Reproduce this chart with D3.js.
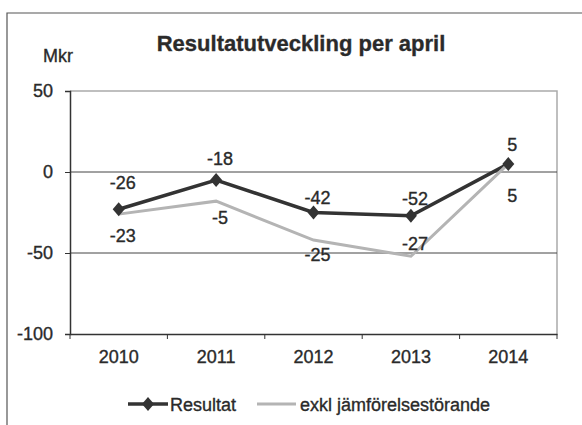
<!DOCTYPE html>
<html>
<head>
<meta charset="utf-8">
<script src="https://cdn.jsdelivr.net/npm/d3@7"></script>
<style>
  body { margin: 0; background: #fff; }
  svg text { font-family: "Liberation Sans", Arial, sans-serif; fill: #2a2a2a; stroke: #2a2a2a; stroke-width: 0.35px; }
</style>
</head>
<body>
<svg width="582" height="425"></svg>
<script>
const years = ['2010', '2011', '2012', '2013', '2014'],
      resultat = [-23, -5, -25, -27, 5],
      exkl = [-26, -18, -42, -52, 5],
      yTicks = [50, 0, -50, -100];

// hand placed labels in the original, offsets from the dark point
const topNudge = [-26, -21, -15, -17, -19],
      bottomNudge = [27, 38, 42, 28, 32];

const svg = d3.select('svg'),
      plotL = 70, plotR = 557, plotT = 91, plotB = 334;

svg.append('rect').attr('width', 582).attr('height', 425).attr('fill', '#fff');

// frame of the scanned box
svg.append('path')
    .attr('d', 'M7,425V13H582')
    .attr('fill', 'none')
    .attr('stroke', '#555')
    .attr('stroke-width', 1.2);

const x = d3.scaleBand().domain(years).range([plotL, plotR]);
const y = d3.scaleLinear().domain([-100, 50]).range([plotB, plotT]);
const cx = d => x(d) + x.bandwidth() / 2;

// plot border top/right
svg.append('path')
    .attr('d', `M${plotL},${y(50)}H${plotR}V${plotB}`)
    .attr('fill', 'none')
    .attr('stroke', '#aaa')
    .attr('stroke-width', 1.5);

svg.selectAll('.grid')
    .data([0, -50])
    .enter().append('line')
    .attr('x1', plotL).attr('x2', plotR)
    .attr('y1', d => y(d)).attr('y2', d => y(d))
    .attr('stroke', '#444')
    .attr('stroke-width', 1);

const yAxis = d3.axisLeft(y).tickValues(yTicks).tickSize(5).tickPadding(12)
    .tickFormat(d => String(d));
const gY = svg.append('g').attr('transform', `translate(${plotL},0)`).call(yAxis);
gY.select('.domain').attr('stroke', '#333').attr('stroke-width', 1.5);
gY.selectAll('.tick line').attr('stroke', '#333');
gY.selectAll('.tick text').attr('font-size', 18).attr('fill', '#2a2a2a');

const xAxis = d3.axisBottom(x).tickSize(0).tickPadding(16);
const gX = svg.append('g').attr('transform', `translate(0,${plotB})`).call(xAxis);
gX.select('.domain').attr('stroke', '#333').attr('stroke-width', 1.5);
gX.selectAll('.tick text').attr('font-size', 18).attr('fill', '#2a2a2a');

// category boundary ticks
const bounds = years.map(d => x(d)).concat([plotR]);
svg.selectAll('.xtick')
    .data(bounds)
    .enter().append('line')
    .attr('x1', d => d).attr('x2', d => d)
    .attr('y1', plotB).attr('y2', plotB + 5)
    .attr('stroke', '#333');

const line = d3.line().x((d, i) => cx(years[i])).y(d => y(d));

svg.append('path')
    .datum(resultat)
    .attr('d', line)
    .attr('fill', 'none')
    .attr('stroke', '#333')
    .attr('stroke-width', 3.5);

svg.append('path')
    .datum(exkl)
    .attr('d', line)
    .attr('fill', 'none')
    .attr('stroke', '#b4b4b4')
    .attr('stroke-width', 3);

const diamond = 'M0,-7L6,0L0,7L-6,0Z';

svg.selectAll('.marker')
    .data(resultat)
    .enter().append('path')
    .attr('d', diamond)
    .attr('transform', (d, i) => `translate(${cx(years[i])},${y(d)})`)
    .attr('fill', '#333');

svg.selectAll('.lblTop')
    .data(exkl)
    .enter().append('text')
    .attr('x', (d, i) => cx(years[i]) + 4)
    .attr('y', (d, i) => y(resultat[i]) + topNudge[i] + 6)
    .attr('text-anchor', 'middle')
    .attr('font-size', 18)
    .text(d => d);

svg.selectAll('.lblBottom')
    .data(resultat)
    .enter().append('text')
    .attr('x', (d, i) => cx(years[i]) + 4)
    .attr('y', (d, i) => y(d) + bottomNudge[i] + 6)
    .attr('text-anchor', 'middle')
    .attr('font-size', 18)
    .text(d => d);

svg.append('text')
    .attr('x', 301).attr('y', 51)
    .attr('text-anchor', 'middle')
    .attr('font-size', 22)
    .attr('font-weight', 'bold')
    .attr('fill', '#333')
    .style('stroke', '#333')
    .text('Resultatutveckling per april');

svg.append('text')
    .attr('x', 43).attr('y', 62)
    .attr('font-size', 18)
    .text('Mkr');

// legend
const legend = svg.append('g').attr('transform', 'translate(0,404)');
legend.append('line').attr('x1', 128).attr('x2', 168)
    .attr('stroke', '#333').attr('stroke-width', 3.5);
legend.append('path').attr('d', diamond).attr('transform', 'translate(148,0)').attr('fill', '#333');
legend.append('text').attr('x', 170).attr('y', 7).attr('font-size', 18).text('Resultat');
legend.append('line').attr('x1', 257).attr('x2', 296)
    .attr('stroke', '#b4b4b4').attr('stroke-width', 3);
legend.append('text').attr('x', 300).attr('y', 7).attr('font-size', 18).text('exkl jämförelsestörande');
</script>
</body>
</html>
